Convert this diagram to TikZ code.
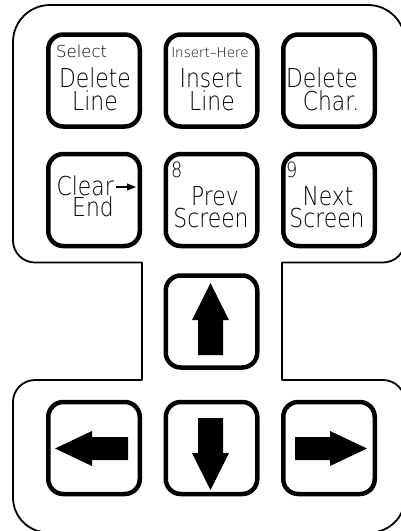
\documentclass[tikz,border=0pt]{standalone}
\usepackage{fontspec}
\usetikzlibrary{arrows.meta}
\newfontfamily\keyfont[FakeStretch=0.84]{DejaVu Sans ExtraLight}
\newfontfamily\smallfont{DejaVu Sans ExtraLight}
\tikzset{
  panel/.style={line width=1.8pt, line join=round},
  keybox/.style={draw, line width=4.5pt, rounded corners=15pt, minimum width=91.5pt, minimum height=92pt, inner sep=0pt},
  big/.style={inner sep=0pt, anchor=base, font=\keyfont\fontsize{26}{26}\selectfont},
  num/.style={inner sep=0pt, anchor=base west, font=\keyfont\fontsize{21}{21}\selectfont},
  tiny/.style={inner sep=0pt, font=\smallfont\fontsize{#1}{#1}\selectfont},
  arrowfill/.style={fill=black},
  clrarrow/.style={line width=1.3pt, -{Triangle[length=9pt, width=7pt]}}
}
\begin{document}
\begin{tikzpicture}[x=1pt, y=-1pt]
\useasboundingbox (0,0) rectangle (401,531);
\clip (0,0) rectangle (401,531);
% outer outline
\draw[panel] (50,5) -- (368,5) arc[start angle=-90, end angle=0, radius=37]
  -- (405,240.5) arc[start angle=0, end angle=90, radius=22]
  -- (282,262.5) -- (282,380) -- (383,380) arc[start angle=-90, end angle=0, radius=22]
  -- (405,497.5) arc[start angle=0, end angle=90, radius=35]
  -- (48,532.5) arc[start angle=90, end angle=180, radius=35]
  -- (13,402) arc[start angle=180, end angle=270, radius=22]
  -- (142,380) -- (142,262.5) -- (35,262.5) arc[start angle=90, end angle=180, radius=22]
  -- (13,42) arc[start angle=180, end angle=270, radius=37] -- cycle;
% keys
\node[keybox] (k11) at (94,80.5) {};
\node[keybox] (k12) at (211.5,80.5) {};
\node[keybox] (k13) at (329,80.5) {};
\node[keybox] (k21) at (94,200) {};
\node[keybox] (k22) at (211.5,200) {};
\node[keybox] (k23) at (329,200) {};
\node[keybox] (kup) at (211.5,321.5) {};
\node[keybox] (kleft) at (94,448) {};
\node[keybox] (kdown) at (211.5,448) {};
\node[keybox] (kright) at (329,448) {};
% row 1 labels
\node[tiny=16.5, anchor=base west] (sel) at (56,57) {Select};
\node[tiny=13.5, anchor=base] (ins) at (210,57) {Insert–Here};
\node[big] (t11a) at (95,87) {Delete};
\node[big] (t11b) at (95,110) {Line};
\node[big] (t12a) at (211,87) {Insert};
\node[big] (t12b) at (212,110) {Line};
\node[big] (t13a) at (322,87) {Delete};
\node[big] (t13b) at (331,110) {Char.};
% row 2 labels
\node[big, anchor=base east] (t21a) at (114,195) {Clear};
\coordinate (ca) at (116,187);
\coordinate (cb) at (136,187);
\draw[clrarrow] (ca) -- (cb);
\node[big] (t21b) at (93,216) {End};
\node[num] (n8) at (171,177) {8};
\node[big] (t22a) at (215,205) {Prev};
\node[big] (t22b) at (211,227) {Screen};
\node[num] (n9) at (286,177) {9};
\node[big] (t23a) at (328,205) {Next};
\node[big] (t23b) at (327,227) {Screen};
% arrows
\fill[arrowfill] (198,355) -- (198,320) -- (192,320) -- (210.5,283) -- (229,320) -- (223,320) -- (223,355) -- cycle;
\fill[arrowfill] (198,418) -- (223,418) -- (223,453) -- (229,453) -- (210.5,490) -- (192,453) -- (198,453) -- cycle;
\fill[arrowfill] (55,448.5) -- (92,431) -- (92,437) -- (128,437) -- (128,460) -- (92,460) -- (92,466) -- cycle;
\fill[arrowfill] (295,437) -- (330,437) -- (330,431) -- (367,448.5) -- (330,466) -- (330,460) -- (295,460) -- cycle;
\end{tikzpicture}
\end{document}
